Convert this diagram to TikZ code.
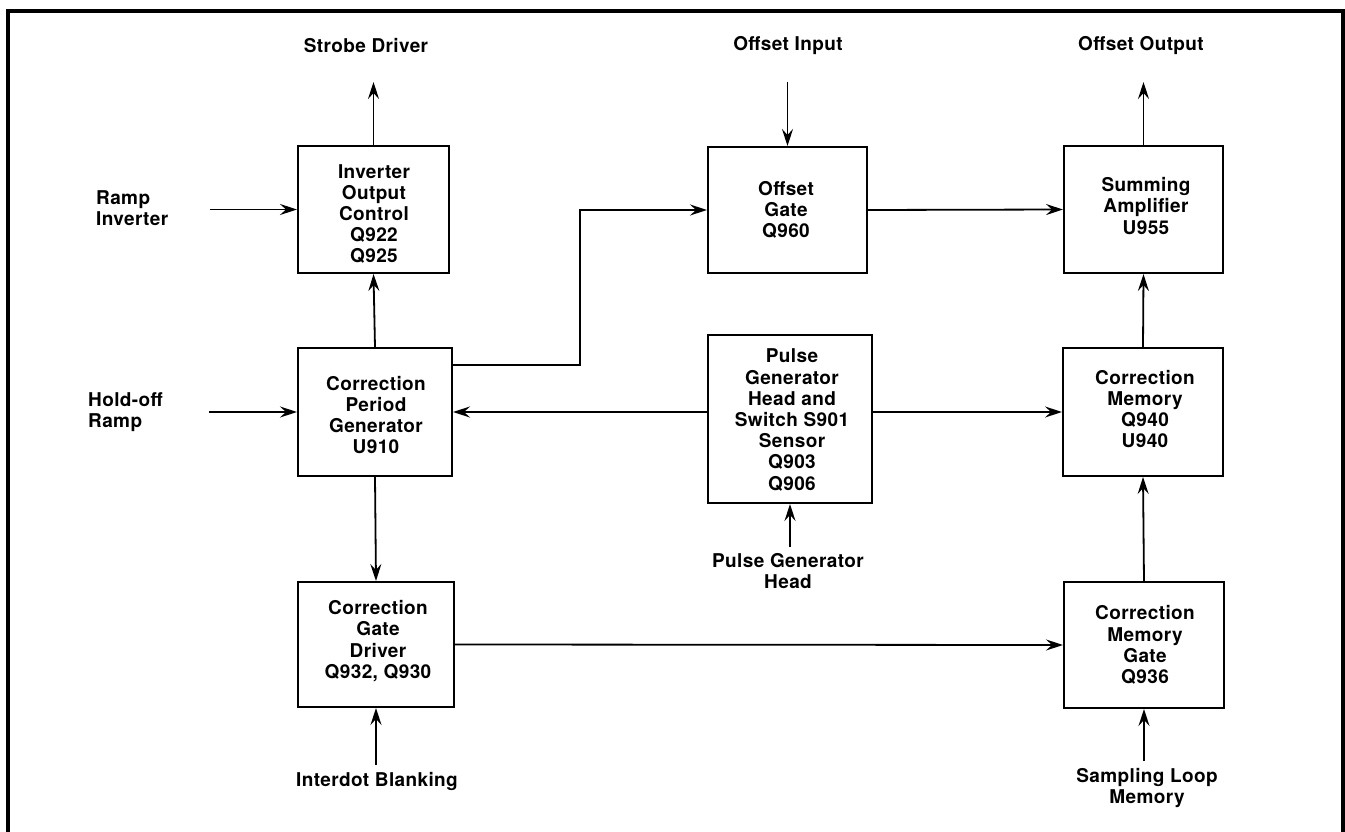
\documentclass[tikz,border=0pt]{standalone}
\usepackage{fontspec}
\setmainfont{TeX Gyre Heros}[LetterSpace=2]
\usetikzlibrary{arrows.meta,calc}
\begin{document}
\begin{tikzpicture}[x=1pt,y=-1pt,
  every node/.style={font=\fontsize{19}{21.2}\selectfont\bfseries},
  blk/.style={draw,line width=2pt,align=center,inner sep=0pt},
  lbl/.style={align=center,inner sep=0pt},
  arr/.style={line width=1.8pt,-{Stealth[length=17pt,width=11pt,inset=6pt]}},
  wire/.style={line width=1.8pt}]
\useasboundingbox (0,0) rectangle (1345,832);
\draw[line width=3.5pt] (8,832) -- (8,11) -- (1343,11) -- (1343,832);
% blocks
\node[blk,minimum width=151pt,minimum height=127pt] (inv) at (373.5,209.5) {};
\node[lbl] at (374,214) {Inverter\\Output\\Control\\Q922\\Q925};
\node[blk,minimum width=159pt,minimum height=126pt] (og) at (787.5,210) {};
\node[lbl] at (786,210) {Offset\\Gate\\Q960};
\node[blk,minimum width=159pt,minimum height=127pt] (sa) at (1143.5,209.5) {};
\node[lbl] at (1146,206) {Summing\\Amplifier\\U955};
\node[blk,minimum width=154pt,minimum height=128pt] (cpg) at (375,412) {};
\node[lbl] at (376,415) {Correction\\Period\\Generator\\U910};
\node[blk,minimum width=164pt,minimum height=168pt] (pg) at (790,419) {};
\node[lbl] at (792,420) {Pulse\\Generator\\Head and\\Switch S901\\Sensor\\Q903\\Q906};
\node[blk,minimum width=160pt,minimum height=128pt] (cm) at (1143,412) {};
\node[lbl] at (1145,409) {Correction\\Memory\\Q940\\U940};
\node[blk,minimum width=156pt,minimum height=125pt] (cgd) at (376,644.5) {};
\node[lbl] at (378,641) {Correction\\Gate\\Driver\\Q932, Q930};
\node[blk,minimum width=160pt,minimum height=126pt] (cmg) at (1144,645) {};
\node[lbl] at (1145,645) {Correction\\Memory\\Gate\\Q936};
% external labels
\node[lbl] (strobe) at (366,46) {Strobe Driver};
\node[lbl] (offin) at (788,46) {Offset Input};
\node[lbl] (offout) at (1141,46) {Offset Output};
\node[lbl,anchor=west,align=left] (rampinv) at (96,208) {Ramp\\Inverter};
\node[lbl,anchor=west,align=left] (holdoff) at (88,412) {Hold-off\\Ramp};
\node[lbl] (interdot) at (377,781) {Interdot Blanking};
\node[lbl] (pgh) at (788,571) {Pulse Generator\\Head};
\node[lbl] (slm) at (1147,788) {Sampling Loop\\Memory};
% free ends
\coordinate (sdend) at (373.5,82);
\coordinate (oistart) at (787.5,82);
\coordinate (ooend) at (1143.5,82);
\coordinate (ristart) at (210,209.5);
\coordinate (hostart) at (209,412);
\coordinate (idstart) at (376,765);
\coordinate (pghstart) at (790,547);
\coordinate (slmstart) at (1144,761);
\coordinate (bend) at (580,365);
% connectors
\draw[arr] (inv.north) -- (sdend);
\draw[arr] (oistart) -- (og.north);
\draw[arr] (sa.north) -- (ooend);
\draw[arr] (ristart) -- (inv.west);
\draw[arr] (hostart) -- (cpg.west);
\draw[arr] (cpg.north) -- (inv.south);
\draw[arr] (cpg.south) -- (cgd.north);
\draw[arr] (idstart) -- (cgd.south);
\draw[arr] (cpg.east |- bend) -- (bend) |- (og.west);
\draw[arr] (og.east) -- (sa.west);
\draw[arr] (pg.west |- cpg.east) -- (cpg.east);
\draw[arr] (pg.east |- cm.west) -- (cm.west);
\draw[arr] (pghstart) -- (pg.south);
\draw[arr] (cm.north) -- (sa.south);
\draw[arr] (cmg.north) -- (cm.south);
\draw[arr] (slmstart) -- (cmg.south);
\draw[arr] (cgd.east) -- (cmg.west);
\end{tikzpicture}
\end{document}
